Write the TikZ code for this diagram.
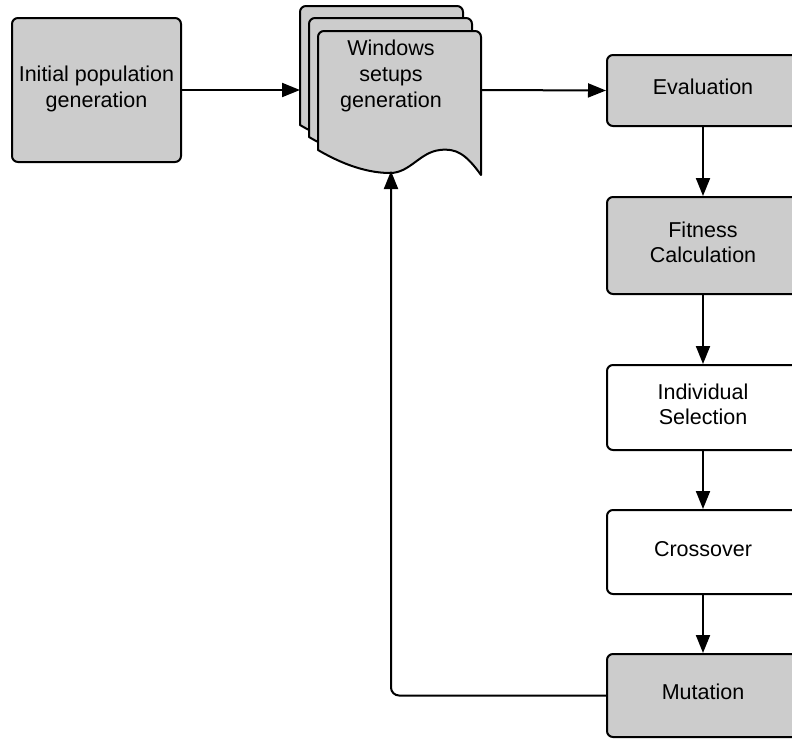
\documentclass[tikz,border=0pt]{standalone}
\usepackage{fontspec}
\setmainfont{Liberation Sans}
\usetikzlibrary{arrows.meta}
\definecolor{boxgray}{HTML}{CCCCCC}
\tikzset{
  boxfont/.style={font=\fontsize{21.5}{25.5}\selectfont},
  box/.style={draw=black, line width=2pt, rounded corners=6pt, minimum width=192pt, align=center, boxfont, inner sep=0pt, text depth=7pt},
  graybox/.style={box, fill=boxgray},
  whitebox/.style={box, fill=white},
  conn/.style={line width=2pt, -{Triangle[length=18pt,width=14pt]}},
  sheet/.style={draw=black, line width=2pt, fill=boxgray, line join=round},
}
\newcommand{\docsheet}[2]{%
  \path[sheet] ({318+#1},{150+#2}) -- ({318+#1},{36+#2}) [rounded corners=6pt] -- ({318+#1},{31+#2}) -- ({481+#1},{31+#2}) [sharp corners] -- ({481+#1},{175+#2})
    .. controls ({466+#1},{154+#2}) and ({456+#1},{148+#2}) .. ({440+#1},{150+#2})
    .. controls ({420+#1},{152+#2}) and ({410+#1},{173+#2}) .. ({390+#1},{173+#2})
    .. controls ({362+#1},{173+#2}) and ({335+#1},{160+#2}) .. cycle;}
\begin{document}
\begin{tikzpicture}[x=1pt,y=-1pt]
\useasboundingbox (0,0) rectangle (792,739);
\clip (0,0) rectangle (792,739);
\node[graybox, minimum width=169pt, minimum height=144pt] (init) at (96.5,90) {Initial population\\generation};
\docsheet{-18}{-25}
\docsheet{-9}{-13}
\docsheet{0}{0}
\node[font=\fontsize{21.5}{26}\selectfont, align=center, inner sep=0pt] (doc) at (391,76) {Windows\\setups\\generation};
\coordinate (docL) at (300,90);
\coordinate (docR) at (481,90);
\coordinate (docB) at (391,171);
\node[graybox, minimum height=71pt] (eval) at (703,90.5) {Evaluation};
\node[graybox, minimum height=97pt] (fit) at (703,245.5) {Fitness\\Calculation};
\node[whitebox, minimum height=85pt] (sel) at (703,407.5) {Individual\\Selection};
\node[whitebox, minimum height=84pt] (cross) at (703,552) {Crossover};
\node[graybox, minimum height=83pt] (mut) at (703,695.5) {Mutation};
\draw[conn] (init.east) -- (docL);
\draw[conn] (docR) -- (eval.west);
\draw[conn] (eval) -- (fit);
\draw[conn] (fit) -- (sel);
\draw[conn] (sel) -- (cross);
\draw[conn] (cross) -- (mut);
\draw[conn, rounded corners=8pt] (mut.west) -| (docB);
\end{tikzpicture}
\end{document}
